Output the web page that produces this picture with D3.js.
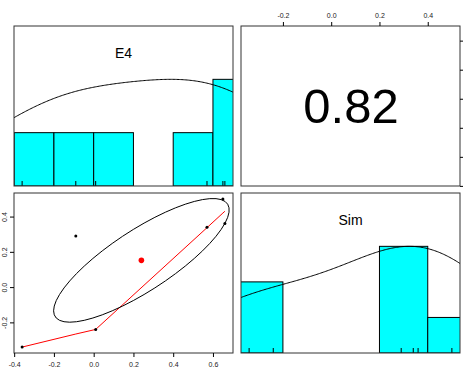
<!DOCTYPE html>
<html>
<head>
<meta charset="utf-8">
<script src="https://cdn.jsdelivr.net/npm/d3@7"></script>
<style>
  body { margin: 0; background: #fff; }
  svg { display: block; font-family: "Liberation Sans", Arial, sans-serif; }
</style>
</head>
<body>
<svg id="chart" width="468" height="368"></svg>
<script>
/* pairs panel: E4 vs Sim */

const varNames = ["E4", "Sim"];
const e4 = [-0.36, 0.01, -0.09, 0.57, 0.65, 0.66];
const sim = [-0.34, -0.24, 0.29, 0.34, 0.50, 0.36];
// loess fit of Sim on E4 (same order as e4)
const simSmooth = [-0.34, -0.24, -0.266, 0.337, 0.42, 0.43];
const e4Breaks = [-0.4, -0.2, 0, 0.2, 0.4, 0.6, 0.8];
const simBreaks = [-0.4, -0.2, 0, 0.2, 0.4, 0.6];
const e4Ticks = [-0.4, -0.2, 0, 0.2, 0.4, 0.6];
const simTicks = [-0.2, 0, 0.2, 0.4];

const cols = [14, 241], rows = [26, 193];
const pw = 219, ph = 160;
const svg = d3.select("#chart");

const fmt = (d) => d3.format(".1f")(d).replace("\u2212", "-");

// R style axis range: data extent + 4% each side
const padded = (v) => {
  const [lo, hi] = d3.extent(v);
  const r = (hi - lo) * 0.04;
  return [lo - r, hi + r];
};

const xE4 = d3.scaleLinear().domain(padded(e4)).range([cols[0], cols[0] + pw]);
const xSim = d3.scaleLinear().domain(padded(sim)).range([cols[1], cols[1] + pw]);
const yE4 = d3.scaleLinear().domain(padded(e4)).range([rows[0] + ph, rows[0]]);
const ySim = d3.scaleLinear().domain(padded(sim)).range([rows[1] + ph, rows[1]]);

const defs = svg.append("defs");
const clipFor = (id, x, y) => {
  defs.append("clipPath").attr("id", id)
    .append("rect").attr("x", x).attr("y", y).attr("width", pw).attr("height", ph);
  return `url(#${id})`;
};

const bwNrd = (v) => {
  const s = d3.deviation(v);
  const iqr = d3.quantile(v, 0.75) - d3.quantile(v, 0.25);
  return 1.06 * Math.min(s, iqr / 1.34) * Math.pow(v.length, -0.2);
};

const density = (v, adjust) => {
  const bw = bwNrd(v) * adjust;
  const [lo, hi] = d3.extent(v);
  const a = lo - 3 * bw, b = hi + 3 * bw;
  const pts = d3.range(512).map((i) => {
    const x = a + i * (b - a) / 511;
    const y = d3.mean(v, (xi) => Math.exp(-0.5 * ((x - xi) / bw) ** 2));
    return [x, y];
  });
  const m = d3.max(pts, (p) => p[1]);
  return pts.map((p) => [p[0], p[1] / m]);
};

const drawDiag = (v, breaks, xs, px, py, name, id) => {
  const g = svg.append("g");
  const hy = d3.scaleLinear().domain([0, 1.5]).range([py + ph, py]);
  const bins = d3.bin().domain([breaks[0], breaks[breaks.length - 1]])
    .thresholds(breaks.slice(1, -1))(v);
  const maxC = d3.max(bins, (b) => b.length);
  const inner = g.append("g").attr("clip-path", clipFor(id, px, py));

  inner.selectAll("rect.bar").data(bins).enter().append("rect")
    .attr("class", "bar")
    .attr("x", (b) => xs(b.x0))
    .attr("width", (b) => xs(b.x1) - xs(b.x0))
    .attr("y", (b) => hy(b.length / maxC))
    .attr("height", (b) => hy(0) - hy(b.length / maxC))
    .attr("fill", "#00ffff").attr("stroke", "#000").attr("stroke-width", 1);

  inner.append("path")
    .datum(density(v, 1.2))
    .attr("d", d3.line().x((p) => xs(p[0])).y((p) => hy(p[1])))
    .attr("fill", "none").attr("stroke", "#000").attr("stroke-width", 1);

  // rug
  inner.selectAll("line.rug").data(v).enter().append("line")
    .attr("class", "rug")
    .attr("x1", (d) => xs(d)).attr("x2", (d) => xs(d))
    .attr("y1", py + ph).attr("y2", py + ph - 5)
    .attr("stroke", "#000").attr("stroke-width", 1);

  g.append("text")
    .attr("x", px + pw / 2).attr("y", py + 32)
    .attr("text-anchor", "middle").attr("font-size", 14)
    .text(name);
};

drawDiag(e4, e4Breaks, xE4, cols[0], rows[0], varNames[0], "c11");
drawDiag(sim, simBreaks, xSim, cols[1], rows[1], varNames[1], "c22");

// correlation panel
const mx = d3.mean(e4), my = d3.mean(sim);
const sx = d3.deviation(e4), sy = d3.deviation(sim);
const r = d3.sum(e4, (d, i) => (d - mx) * (sim[i] - my)) /
  Math.sqrt(d3.sum(e4, (d) => (d - mx) ** 2) * d3.sum(sim, (d) => (d - my) ** 2));

svg.append("text")
  .attr("x", cols[1] + pw / 2 + 0.5).attr("y", 123)
  .attr("text-anchor", "middle").attr("font-size", 49)
  .text(d3.format(".2f")(r));

// scatter panel
const sc = svg.append("g").attr("clip-path", clipFor("c21", cols[0], rows[1]));
const order = d3.range(e4.length).sort((a, b) => e4[a] - e4[b]);

sc.append("path")
  .datum(order)
  .attr("d", d3.line().x((i) => xE4(e4[i])).y((i) => ySim(simSmooth[i])))
  .attr("fill", "none").attr("stroke", "#ff0000").attr("stroke-width", 1);

const theta = Math.sign(r) / Math.SQRT2;
const ellipse = d3.range(52).map((k) => {
  const t = k * 2 * Math.PI / 51;
  const c = Math.cos(t), s = Math.sin(t);
  const a = Math.sqrt(1 + r), b = Math.sqrt(1 - r);
  return [(c * a * theta - s * b * theta) * sx + mx, (c * a * theta + s * b * theta) * sy + my];
});
sc.append("path")
  .datum(ellipse)
  .attr("d", d3.line().x((p) => xE4(p[0])).y((p) => ySim(p[1])))
  .attr("fill", "none").attr("stroke", "#000").attr("stroke-width", 1);

sc.selectAll("circle.pt").data(e4).enter().append("circle")
  .attr("class", "pt")
  .attr("cx", (d) => xE4(d)).attr("cy", (d, i) => ySim(sim[i]))
  .attr("r", 1.5).attr("fill", "#000");

sc.append("circle")
  .attr("cx", xE4(mx)).attr("cy", ySim(my))
  .attr("r", 2.8).attr("fill", "#ff0000");

// panel boxes
cols.forEach((x) => rows.forEach((y) => {
  svg.append("rect")
    .attr("x", x).attr("y", y).attr("width", pw).attr("height", ph)
    .attr("fill", "none").attr("stroke", "#333").attr("stroke-width", 1);
}));

// axes
const styleAxis = (g) => {
  g.select(".domain").remove();
  g.selectAll(".tick line").attr("stroke", "#000");
  g.selectAll(".tick text").attr("fill", "#222").attr("font-size", 7)
    .attr("font-family", "Liberation Sans, Arial, sans-serif");
};

svg.append("g")
  .attr("transform", `translate(0,${rows[1] + ph})`)
  .call(d3.axisBottom(xE4).tickValues(e4Ticks).tickSize(4).tickPadding(5).tickFormat(fmt))
  .call(styleAxis);

svg.append("g")
  .attr("transform", `translate(0,${rows[0]})`)
  .call(d3.axisTop(xSim).tickValues(simTicks).tickSize(4).tickPadding(4.5).tickFormat(fmt))
  .call(styleAxis);

svg.append("g")
  .attr("transform", `translate(${cols[0]},0)`)
  .call(d3.axisLeft(ySim).tickValues(simTicks).tickSize(4).tickFormat(fmt))
  .call(styleAxis)
  .call((g) => g.selectAll(".tick text")
    .attr("transform", "rotate(-90)")
    .attr("text-anchor", "middle")
    .attr("x", 0).attr("y", -7.5).attr("dy", 0));

svg.append("g")
  .attr("transform", `translate(${cols[1] + pw},0)`)
  .call(d3.axisRight(yE4).tickValues(e4Ticks).tickSize(3).tickFormat(""))
  .call(styleAxis);
</script>
</body>
</html>
